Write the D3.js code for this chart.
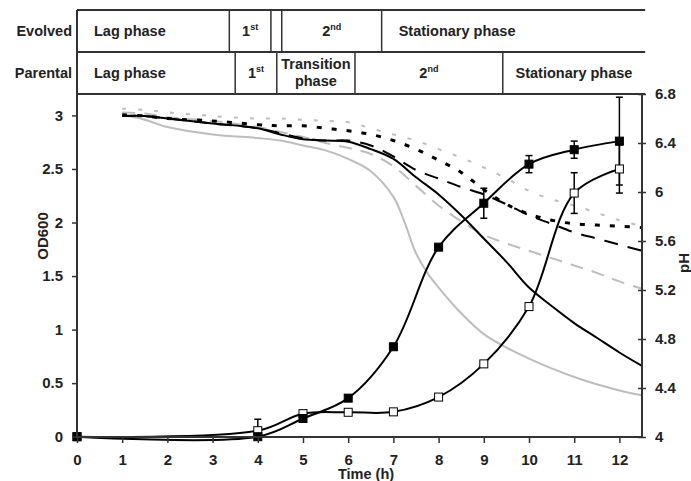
<!DOCTYPE html>
<html>
<head>
<meta charset="utf-8">
<script src="https://cdn.jsdelivr.net/npm/d3@7/dist/d3.min.js"></script>
<style>
  body { margin: 0; background: #fff; }
  text { font-family: "Liberation Sans", Arial, sans-serif; font-weight: bold; fill: #222; }
</style>
</head>
<body>
<div id="chart"></div>
<script>
// OD600 growth data (hours)
var hours = [0, 4, 5, 6, 7, 8, 9, 10, 11, 12];
var odEvolved = [0, 0, 0.17, 0.36, 0.84, 1.77, 2.18, 2.545, 2.68, 2.76];
var odEvolvedErr = [0, 0, 0, 0, 0, 0, 0.14, 0.08, 0.08, 0.41];
var odParental = [0, 0.056, 0.215, 0.228, 0.232, 0.37, 0.68, 1.215, 2.275, 2.5];
var odParentalErr = [0, 0.107, 0, 0, 0, 0, 0, 0, 0.19, 0.225];

// pH traces
var pHTimes = [1, 1.5, 2, 3, 4, 4.5, 5, 5.5, 6, 6.5, 7, 7.5, 8, 8.5, 9, 9.5, 10, 10.5, 11, 11.5, 12, 12.5];
var pHBlackSolid  = [6.62, 6.62, 6.60, 6.56, 6.52, 6.47, 6.43, 6.42, 6.41, 6.35, 6.27, 6.12, 5.98, 5.81, 5.62, 5.43, 5.22, 5.07, 4.93, 4.81, 4.69, 4.58];
var pHBlackDashed = [6.62, 6.62, 6.60, 6.56, 6.52, 6.48, 6.44, 6.42, 6.42, 6.38, 6.29, 6.18, 6.11, 6.04, 5.98, 5.90, 5.81, 5.74, 5.67, 5.62, 5.57, 5.52];
var pHBlackDotted = [6.63, 6.62, 6.60, 6.58, 6.55, 6.54, 6.54, 6.52, 6.50, 6.47, 6.42, 6.35, 6.26, 6.16, 6.02, 5.90, 5.82, 5.77, 5.74, 5.73, 5.72, 5.71];
var pHGreyDotted  = [6.68, 6.67, 6.65, 6.62, 6.60, 6.60, 6.59, 6.58, 6.57, 6.52, 6.47, 6.42, 6.35, 6.28, 6.20, 6.11, 6.01, 5.94, 5.89, 5.83, 5.77, 5.72];
var pHGreyDashed  = [6.65, 6.64, 6.61, 6.58, 6.53, 6.49, 6.45, 6.40, 6.36, 6.31, 6.21, 6.05, 5.89, 5.76, 5.65, 5.58, 5.52, 5.46, 5.40, 5.34, 5.27, 5.21];
var greySolidTimes = [1, 1.5, 2, 3, 4, 4.5, 5, 5.5, 6, 6.5, 7, 7.25, 7.5, 7.75, 8, 8.5, 9, 9.5, 10, 10.5, 11, 11.5, 12, 12.5];
var pHGreySolid   = [6.63, 6.59, 6.53, 6.47, 6.44, 6.42, 6.38, 6.34, 6.27, 6.17, 5.96, 5.75, 5.50, 5.34, 5.22, 5.01, 4.84, 4.73, 4.64, 4.56, 4.49, 4.43, 4.38, 4.34];

// growth phase table (boundaries in hours)
var evolvedPhases = ["Lag phase", "1st", "", "2nd", "Stationary phase"];
var evolvedBounds = [0, 3.37, 4.29, 4.53, 6.74, 12.57];
var parentalPhases = ["Lag phase", "1st", "Transition phase", "2nd", "Stationary phase"];
var parentalBounds = [0, 3.5, 4.42, 6.15, 9.42, 12.57];

var xTicks = d3.range(0, 13);
var odTicks = [0, 0.5, 1, 1.5, 2, 2.5, 3];
var pHTicks = [4, 4.4, 4.8, 5.2, 5.6, 6, 6.4, 6.8];

var width = 691, height = 481;
var svg = d3.select("#chart").append("svg")
    .attr("width", width)
    .attr("height", height);

var x = d3.scaleLinear().domain([0, 12.5]).range([77, 642]);
var yOD = d3.scaleLinear().domain([0, 3.2]).range([436.7, 94]);
var yPH = d3.scaleLinear().domain([4, 6.8]).range([437, 94]);

var grey = "#bdbdbd";

// pH lines
var pHSeries = [
  {t: greySolidTimes, v: pHGreySolid, color: grey, dash: null, w: 2},
  {t: pHTimes, v: pHGreyDashed, color: grey, dash: "13,9", w: 2},
  {t: pHTimes, v: pHGreyDotted, color: grey, dash: "4,12", w: 2},
  {t: pHTimes, v: pHBlackDotted, color: "#000", dash: "5,10", w: 3},
  {t: pHTimes, v: pHBlackDashed, color: "#000", dash: "14,10", w: 2},
  {t: pHTimes, v: pHBlackSolid, color: "#000", dash: null, w: 2}
];

var pHLine = d3.line()
    .x(function(d) { return x(d[0]); })
    .y(function(d) { return yPH(d[1]); })
    .curve(d3.curveCatmullRom.alpha(0.5));

pHSeries.forEach(function(s) {
  var pts = s.t.map(function(t, i) { return [t, s.v[i]]; });
  svg.append("path")
    .attr("d", pHLine(pts))
    .attr("fill", "none")
    .attr("stroke", s.color)
    .attr("stroke-width", s.w)
    .attr("stroke-dasharray", s.dash);
});

// OD lines
var odLine = d3.line()
    .x(function(d) { return x(d[0]); })
    .y(function(d) { return yOD(d[1]); })
    .curve(d3.curveCatmullRom.alpha(0.5));

var odSeries = [
  {v: odParental, err: odParentalErr, fill: "#fff"},
  {v: odEvolved, err: odEvolvedErr, fill: "#000"}
];

odSeries.forEach(function(s) {
  var pts = hours.map(function(t, i) { return [t, s.v[i]]; });
  svg.append("path")
    .attr("d", odLine(pts))
    .attr("fill", "none")
    .attr("stroke", "#000")
    .attr("stroke-width", 2);
});

// error bars
odSeries.forEach(function(s) {
  hours.forEach(function(t, i) {
    if (!s.err[i]) return;
    var top = yOD(s.v[i] + s.err[i]);
    var bot = yOD(Math.max(0, s.v[i] - s.err[i]));
    var cx = x(t);
    var g = svg.append("g").attr("stroke", "#000").attr("stroke-width", 1.5);
    g.append("line").attr("x1", cx).attr("x2", cx).attr("y1", top).attr("y2", bot);
    g.append("line").attr("x1", cx - 3.5).attr("x2", cx + 3.5).attr("y1", top).attr("y2", top);
    if (s.v[i] - s.err[i] > 0)
      g.append("line").attr("x1", cx - 3.5).attr("x2", cx + 3.5).attr("y1", bot).attr("y2", bot);
  });
});

// markers
odSeries.forEach(function(s) {
  svg.append("g").selectAll("rect")
    .data(hours.map(function(t, i) { return [t, s.v[i]]; }))
    .enter().append("rect")
    .attr("x", function(d) { return x(d[0]) - 4; })
    .attr("y", function(d) { return yOD(d[1]) - 4; })
    .attr("width", 8)
    .attr("height", 8)
    .attr("fill", s.fill)
    .attr("stroke", "#000")
    .attr("stroke-width", 1);
});

// axes
var axisColor = "#333";
var xAxis = svg.append("g")
    .attr("transform", "translate(0,437)")
    .call(d3.axisBottom(x).tickValues(xTicks).tickSize(6).tickPadding(11).tickFormat(d3.format("d")));

var leftAxis = svg.append("g")
    .attr("transform", "translate(77,0)")
    .call(d3.axisLeft(yOD).tickValues(odTicks).tickSize(5).tickPadding(9).tickFormat(function(d) { return d; }));

var rightAxis = svg.append("g")
    .attr("transform", "translate(642,0)")
    .call(d3.axisRight(yPH).tickValues(pHTicks).tickSizeInner(4).tickSizeOuter(0).tickPadding(9).tickFormat(function(d) { return d; }));

rightAxis.selectAll(".tick line").attr("x1", -4);

[xAxis, leftAxis, rightAxis].forEach(function(a) {
  a.select(".domain").attr("stroke", axisColor).attr("stroke-width", 2);
  a.selectAll(".tick line").attr("stroke", axisColor).attr("stroke-width", 1.5);
  a.selectAll("text")
    .style("font-family", "'Liberation Sans', Arial, sans-serif")
    .style("font-weight", "bold")
    .style("font-size", "15px")
    .attr("fill", "#222");
});
xAxis.select(".domain").attr("d", "M77,0H642");
leftAxis.select(".domain").attr("d", "M0,437V94");
rightAxis.select(".domain").attr("d", "M0,437V94");

// axis titles
svg.append("text")
    .attr("x", 366).attr("y", 479)
    .attr("text-anchor", "middle")
    .style("font-size", "14.5px")
    .text("Time (h)");

svg.append("text")
    .attr("transform", "translate(48,236) rotate(-90)")
    .attr("text-anchor", "middle")
    .style("font-size", "15px")
    .text("OD600");

svg.append("text")
    .attr("transform", "translate(689,263) rotate(-90)")
    .attr("text-anchor", "middle")
    .style("font-size", "15px")
    .text("pH");

// phase table
var tableRight = x(12.57);
var rows = [
  {name: "Evolved", phases: evolvedPhases, bounds: evolvedBounds, top: 10, bottom: 52},
  {name: "Parental", phases: parentalPhases, bounds: parentalBounds, top: 52, bottom: 94}
];
var lineColor = "#333";
var tableFont = "14.5px";

[10, 52, 94].forEach(function(yy) {
  svg.append("line").attr("x1", 77).attr("x2", tableRight).attr("y1", yy).attr("y2", yy)
      .attr("stroke", lineColor).attr("stroke-width", 2);
});
svg.append("line").attr("x1", 77).attr("x2", 77).attr("y1", 10).attr("y2", 94)
    .attr("stroke", lineColor).attr("stroke-width", 2);

rows.forEach(function(r) {
  var mid = (r.top + r.bottom) / 2;
  svg.append("text")
    .attr("x", 72).attr("y", mid + 5)
    .attr("text-anchor", "end")
    .style("font-size", tableFont)
    .text(r.name);

  r.bounds.slice(1, -1).forEach(function(b) {
    svg.append("line")
      .attr("x1", x(b)).attr("x2", x(b))
      .attr("y1", r.top).attr("y2", r.bottom)
      .attr("stroke", lineColor).attr("stroke-width", 1.5);
  });

  r.phases.forEach(function(p, i) {
    if (!p) return;
    var x0 = x(r.bounds[i]), x1 = x(r.bounds[i + 1]);
    var wide = (x1 - x0) > 150;
    var t = svg.append("text")
      .attr("text-anchor", wide ? "start" : "middle")
      .attr("x", wide ? x0 + 17 : (x0 + x1) / 2)
      .style("font-size", tableFont);
    var m = p.match(/^(\d)(st|nd)$/);
    if (m) {
      t.attr("y", mid + 5);
      t.append("tspan").text(m[1]);
      t.append("tspan").attr("dy", -6).style("font-size", "9px").text(m[2]);
    } else if (p.indexOf("Transition") === 0) {
      var words = p.split(" ");
      t.append("tspan").attr("x", (x0 + x1) / 2).attr("y", mid - 4.5).text(words[0]);
      t.append("tspan").attr("x", (x0 + x1) / 2).attr("y", mid + 13).text(words[1]);
    } else {
      t.attr("y", mid + 5).text(p);
    }
  });
});
</script>
</body>
</html>
